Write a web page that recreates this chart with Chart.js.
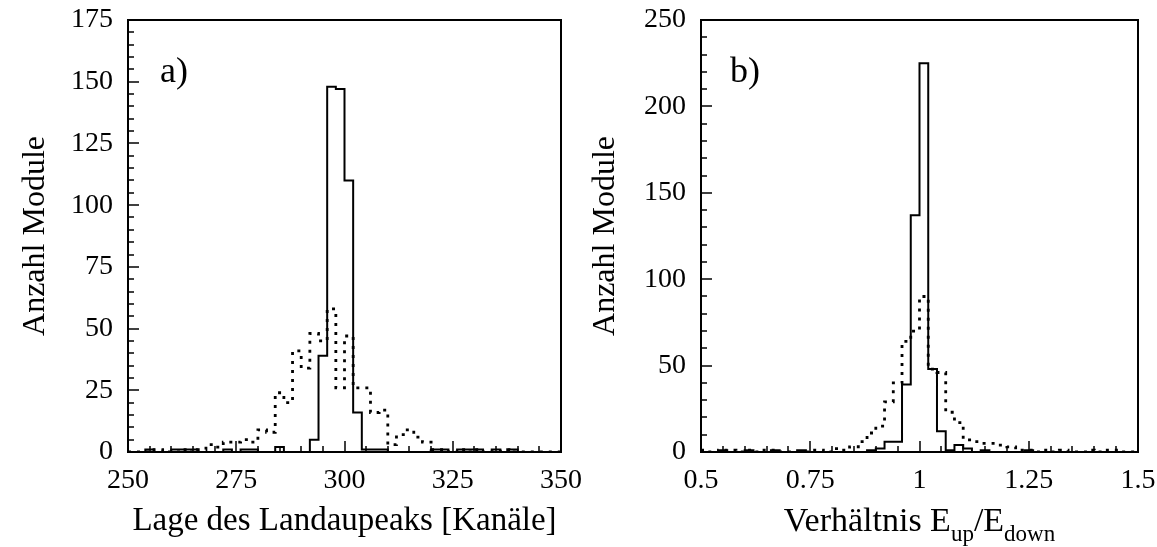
<!DOCTYPE html>
<html>
<head>
<meta charset="utf-8">
<script src="https://cdn.jsdelivr.net/npm/chart.js@4"></script>
<style>
    body { margin: 0; background: #fff; width: 1157px; height: 547px; overflow: hidden; position: relative; }
    canvas { position: absolute; top: 0; }
    #chart-a { left: 0; }
    #chart-b { left: 570px; }
    #title-b {
        position: absolute; left: 701px; width: 437px; top: 500px;
        text-align: center; font-family: "Liberation Serif", serif; font-size: 34px; line-height: 40px; color: #000;
    }
    #title-b sub { font-size: 23px; vertical-align: -10px; line-height: 0; }
</style>
</head>
<body>
<canvas id="chart-a" width="620" height="547"></canvas>
<canvas id="chart-b" width="587" height="547"></canvas>
<div id="title-b">Verhältnis E<sub>up</sub>/E<sub>down</sub></div>
<script>
// panel a: Landau peak position, bins of 2 channels from 250 to 350
var binStartA = 250;
var binWidthA = 2;
var solidA = [
    0, 0, 1, 0, 0, 1, 1, 1, 0, 0,
    0, 1, 0, 1, 1, 0, 0, 2, 0, 0,
    0, 5, 39, 148, 147, 110, 16, 1, 1, 1,
    0, 0, 0, 0, 0, 1, 1, 0, 1, 1,
    1, 0, 1, 0, 1, 0, 0, 0, 0, 0
];
var dottedA = [
    0, 0, 0, 1, 0, 0, 1, 0, 1, 3,
    2, 4, 4, 5, 4, 9, 8, 24, 20, 41,
    34, 48, 45, 58, 26, 47, 26, 26, 16, 17,
    3, 7, 9, 6, 4, 1, 1, 0, 1, 0,
    1, 0, 0, 1, 0, 0, 0, 0, 0, 0
];
var xTicksA = [250, 275, 300, 325, 350];
var yTicksA = [0, 25, 50, 75, 100, 125, 150, 175];

// panel b: ratio E_up/E_down, bins of 0.02 from 0.5 to 1.5
var binStartB = 0.5;
var binWidthB = 0.02;
var solidB = [
    0, 0, 1, 0, 0, 1, 0, 0, 1, 0,
    0, 1, 0, 0, 0, 0, 0, 0, 0, 1,
    2, 6, 6, 39, 137, 225, 48, 12, 1, 4,
    2, 0, 1, 0, 0, 0, 0, 1, 0, 0,
    0, 0, 0, 0, 0, 0, 0, 0, 0, 0
];
var dottedB = [
    1, 0, 1, 1, 0, 1, 0, 1, 1, 0,
    0, 0, 0, 1, 0, 2, 1, 3, 6, 11,
    15, 29, 40, 64, 70, 90, 48, 46, 23, 17,
    7, 6, 5, 5, 4, 3, 1, 1, 0, 1,
    0, 1, 0, 0, 1, 0, 1, 1, 0, 0
];
var xTicksB = [0.5, 0.75, 1, 1.25, 1.5];
var yTicksB = [0, 50, 100, 150, 200, 250];

var serif = '"Liberation Serif", "Times New Roman", serif';

function histPoints(start, width, counts) {
    var pts = [];
    for (var i = 0; i < counts.length; i++) {
        pts.push({x: start + i * width, y: counts[i]});
    }
    pts.push({x: start + counts.length * width, y: counts[counts.length - 1]});
    return pts;
}

var frameTicks = {
    id: 'frameTicks',
    afterDraw: function(chart, args, opts) {
        var ctx = chart.ctx;
        var a = chart.chartArea;
        var xs = chart.scales.x;
        var ys = chart.scales.y;
        var k, v, px, major;
        ctx.save();
        ctx.strokeStyle = '#000';
        ctx.lineWidth = 2;
        ctx.strokeRect(a.left, a.top, a.right - a.left, a.bottom - a.top);

        ctx.lineWidth = 1.5;
        ctx.beginPath();
        var nx = Math.round((xs.max - xs.min) / opts.xMinor);
        for (k = 0; k <= nx; k++) {
            v = xs.min + k * opts.xMinor;
            major = k % opts.every === 0;
            px = Math.round(xs.getPixelForValue(v));
            ctx.moveTo(px, a.bottom);
            ctx.lineTo(px, a.bottom - (major ? 11 : 6));
        }
        var ny = Math.round((ys.max - ys.min) / opts.yMinor);
        for (k = 0; k <= ny; k++) {
            v = ys.min + k * opts.yMinor;
            major = k % opts.every === 0;
            px = Math.round(ys.getPixelForValue(v));
            ctx.moveTo(a.left, px);
            ctx.lineTo(a.left + (major ? 11 : 6), px);
        }
        ctx.stroke();

        ctx.fillStyle = '#000';
        ctx.font = '36px ' + serif;
        ctx.textBaseline = 'alphabetic';
        ctx.fillText(opts.label, a.left + opts.labelDx, a.top + 62);
        ctx.restore();
    }
};

function makeChart(id, cfg) {
    return new Chart(document.getElementById(id), {
        type: 'line',
        data: {
            datasets: [
                {
                    data: histPoints(cfg.start, cfg.width, cfg.solid),
                    borderColor: '#000',
                    borderWidth: 2,
                    stepped: 'before',
                    pointRadius: 0,
                    fill: false
                },
                {
                    data: histPoints(cfg.start, cfg.width, cfg.dotted),
                    borderColor: '#000',
                    borderWidth: 2.8,
                    borderDash: [3, 6],
                    stepped: 'before',
                    pointRadius: 0,
                    fill: false
                }
            ]
        },
        options: {
            responsive: false,
            animation: false,
            layout: { padding: { top: 20, right: cfg.padRight, left: 0, bottom: 0 } },
            plugins: {
                legend: { display: false },
                tooltip: { enabled: false },
                frameTicks: { xMinor: cfg.xMinor, yMinor: cfg.yMinor, every: 5, label: cfg.label, labelDx: cfg.labelDx }
            },
            scales: {
                x: {
                    type: 'linear',
                    min: cfg.xTicks[0],
                    max: cfg.xTicks[cfg.xTicks.length - 1],
                    afterBuildTicks: function(scale) {
                        scale.ticks = cfg.xTicks.map(function(t) { return {value: t}; });
                    },
                    afterFit: function(scale) {
                        scale.height = 95;
                        scale.paddingLeft = 0;
                        scale.paddingRight = 0;
                    },
                    grid: { display: false, drawTicks: false },
                    border: { display: false },
                    ticks: {
                        color: '#000', font: { family: serif, size: 28 }, padding: 12, maxRotation: 0,
                        callback: function(v) { return String(v); }
                    },
                    title: {
                        display: cfg.xTitle !== '',
                        text: cfg.xTitle,
                        color: '#000',
                        font: { family: serif, size: 33 },
                        padding: { top: 0, bottom: 6 }
                    }
                },
                y: {
                    min: cfg.yTicks[0],
                    max: cfg.yTicks[cfg.yTicks.length - 1],
                    afterBuildTicks: function(scale) {
                        scale.ticks = cfg.yTicks.map(function(t) { return {value: t}; });
                    },
                    afterFit: function(scale) {
                        scale.width = cfg.yWidth;
                        scale.paddingTop = 0;
                        scale.paddingBottom = 0;
                    },
                    grid: { display: false, drawTicks: false },
                    border: { display: false },
                    ticks: {
                        color: '#000', font: { family: serif, size: 28 }, padding: 15,
                        callback: function(v) { return String(v); }
                    },
                    title: {
                        display: true,
                        text: 'Anzahl Module',
                        color: '#000',
                        font: { family: serif, size: 32 },
                        padding: { top: 16, bottom: 0 }
                    }
                }
            }
        },
        plugins: [frameTicks]
    });
}

makeChart('chart-a', {
    start: binStartA, width: binWidthA, solid: solidA, dotted: dottedA,
    xTicks: xTicksA, yTicks: yTicksA, xMinor: 5, yMinor: 5,
    yWidth: 128, padRight: 59, label: 'a)', labelDx: 32,
    xTitle: 'Lage des Landaupeaks [Kanäle]'
});

makeChart('chart-b', {
    start: binStartB, width: binWidthB, solid: solidB, dotted: dottedB,
    xTicks: xTicksB, yTicks: yTicksB, xMinor: 0.05, yMinor: 10,
    yWidth: 131, padRight: 19, label: 'b)', labelDx: 29,
    xTitle: ''
});
</script>
</body>
</html>
